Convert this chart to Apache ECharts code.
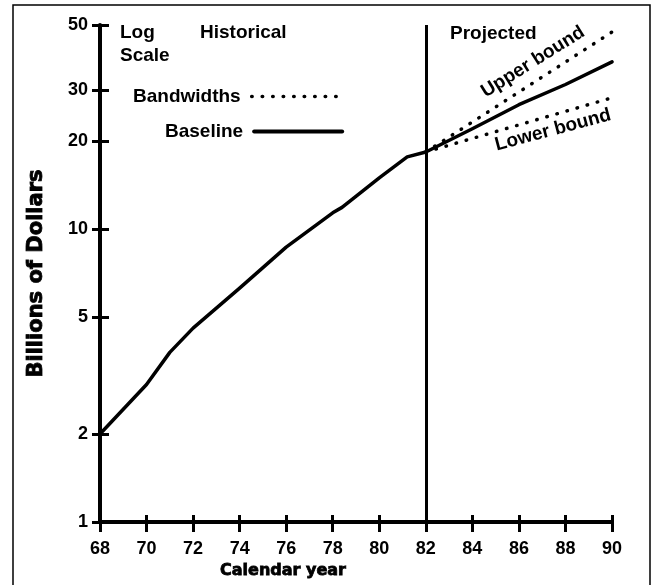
<!DOCTYPE html>
<html>
<head>
<meta charset="utf-8">
<script src="https://cdn.jsdelivr.net/npm/echarts@6/dist/echarts.min.js"></script>
<style>
  html, body { margin: 0; padding: 0; background: #fff; }
  #chart { width: 653px; height: 585px; }
</style>
</head>
<body>
<div id="chart"></div>
<script>
// Calendar years (19xx) and the baseline series in billions of dollars
const years = [68, 70, 71, 72, 74, 76, 78, 78.4, 80, 81.2, 82, 84, 86, 88, 90];
const baseline = [2.0, 2.95, 3.8, 4.6, 6.3, 8.7, 11.4, 11.9, 15.0, 17.7, 18.4, 22.1, 26.7, 31.3, 37.4];

// Projection bandwidths from 1982 onward
const boundYears = [82, 90];
const upperBound = [18.4, 47.3];
const lowerBound = [18.4, 28.2];

// Log-scale tick marks and the year axis range
const yTickValues = [1, 2, 5, 10, 20, 30, 50];
const xRange = [68, 90];
const xStep = 2;
const projectionStart = 82;

const pairs = (xs, ys) => xs.map((x, i) => [x, ys[i]]);

const tickFont = '"Liberation Sans", Arial, sans-serif';
const textFont = '"Liberation Sans", Arial, sans-serif';
const black = '#000';

const yLogMax = Math.log10(yTickValues[yTickValues.length - 1]);
const yTickPositions = yTickValues.map(v => Math.log10(v));

const chart = echarts.init(document.getElementById('chart'), null, { renderer: 'canvas' });

const dotted = { color: black, width: 3.5, type: [0.5, 10], cap: 'round' };
const solid = { color: black, width: 3.5, type: 'solid', cap: 'round', join: 'round' };

const legendText = {
  fontFamily: textFont, fontSize: 19, fontWeight: 'bold', color: black, padding: [0, 6, 0, 0]
};

chart.setOption({
  backgroundColor: '#fff',
  animation: false,
  grid: { left: 100, right: 41, top: 25, bottom: 63, containLabel: false },
  legend: [
    {
      data: ['Bandwidths'], left: 128, top: 82, align: 'right', selectedMode: false,
      itemWidth: 88, itemHeight: 14,
      itemStyle: { opacity: 0 },
      lineStyle: { color: black, width: 3.5, type: [0.5, 10], cap: 'round' },
      textStyle: legendText
    },
    {
      data: ['Baseline'], left: 160, top: 117, align: 'right', selectedMode: false,
      itemWidth: 88, itemHeight: 14,
      itemStyle: { opacity: 0 },
      lineStyle: { color: black, width: 4, type: 'solid', cap: 'round' },
      textStyle: legendText
    }
  ],
  xAxis: [
    {
      type: 'value', min: xRange[0], max: xRange[1], interval: xStep,
      axisLine: { show: true, lineStyle: { color: black, width: 4 } },
      axisTick: { show: true, inside: false, length: 10, lineStyle: { color: black, width: 3 } },
      axisLabel: {
        show: true, margin: 18, color: black,
        fontFamily: tickFont, fontSize: 18, fontWeight: 'bold'
      },
      splitLine: { show: false }
    },
    {
      type: 'value', min: xRange[0], max: xRange[1], interval: xStep, position: 'bottom',
      axisLine: { show: false },
      axisTick: { show: true, inside: true, length: 7, lineStyle: { color: black, width: 3 } },
      axisLabel: { show: false },
      splitLine: { show: false }
    }
  ],
  yAxis: [
    {
      type: 'log', logBase: 10, min: 1, max: 50,
      axisLine: { show: true, lineStyle: { color: black, width: 4 } },
      axisTick: { show: false },
      axisLabel: { show: false },
      splitLine: { show: false },
      name: 'Billions of Dollars', nameLocation: 'middle', nameGap: 53,
      nameTextStyle: {
        fontFamily: '"DejaVu Sans", sans-serif', fontSize: 21, fontWeight: 'bold', color: black,
        textBorderColor: black, textBorderWidth: 0.8
      }
    },
    {
      type: 'value', min: 0, max: yLogMax, position: 'left',
      axisLine: { show: false },
      axisTick: { show: true, inside: false, length: 8, customValues: yTickPositions, lineStyle: { color: black, width: 3 } },
      axisLabel: {
        show: true, margin: 12, customValues: yTickPositions, color: black,
        fontFamily: tickFont, fontSize: 18, fontWeight: 'bold',
        formatter: v => String(Math.round(Math.pow(10, v)))
      },
      splitLine: { show: false }
    },
    {
      type: 'value', min: 0, max: yLogMax, position: 'left',
      axisLine: { show: false },
      axisTick: { show: true, inside: true, length: 9, customValues: yTickPositions, lineStyle: { color: black, width: 3 } },
      axisLabel: { show: false },
      splitLine: { show: false }
    }
  ],
  series: [
    {
      name: 'Baseline', type: 'line', xAxisIndex: 0, yAxisIndex: 0,
      data: pairs(years, baseline),
      symbol: 'none', smooth: false,
      lineStyle: solid,
      itemStyle: { color: black },
      markLine: {
        silent: true, symbol: ['none', 'none'], label: { show: false },
        lineStyle: { color: black, width: 3, type: 'solid' },
        data: [{ xAxis: projectionStart }]
      },
      z: 3
    },
    {
      name: 'Bandwidths', type: 'line', xAxisIndex: 0, yAxisIndex: 0,
      data: pairs(boundYears, upperBound),
      symbol: 'none', lineStyle: dotted, itemStyle: { color: black }
    },
    {
      name: 'Bandwidths', type: 'line', xAxisIndex: 0, yAxisIndex: 0,
      data: pairs(boundYears, lowerBound),
      symbol: 'none', lineStyle: dotted, itemStyle: { color: black }
    }
  ],
  graphic: [
    {
      type: 'rect', shape: { x: 13, y: 5, width: 637, height: 600 },
      style: { fill: 'none', stroke: black, lineWidth: 1.5 }, silent: true
    },
    {
      type: 'text', x: 120, y: 23,
      style: { text: 'Log', fontFamily: textFont, fontSize: 19, fontWeight: 'bold', fill: black, verticalAlign: 'top' }
    },
    {
      type: 'text', x: 120, y: 46,
      style: { text: 'Scale', fontFamily: textFont, fontSize: 19, fontWeight: 'bold', fill: black, verticalAlign: 'top' }
    },
    {
      type: 'text', x: 200, y: 23,
      style: { text: 'Historical', fontFamily: textFont, fontSize: 19, fontWeight: 'bold', fill: black, verticalAlign: 'top' }
    },
    {
      type: 'text', x: 450, y: 24,
      style: { text: 'Projected', fontFamily: textFont, fontSize: 19, fontWeight: 'bold', fill: black, verticalAlign: 'top' }
    },
    {
      type: 'text', x: 533, y: 62, rotation: 32 * Math.PI / 180,
      style: { text: 'Upper bound', fontFamily: textFont, fontSize: 19, fontWeight: 'bold', fill: black, align: 'center', verticalAlign: 'middle' }
    },
    {
      type: 'text', x: 553, y: 130, rotation: 15 * Math.PI / 180,
      style: { text: 'Lower bound', fontFamily: textFont, fontSize: 19, fontWeight: 'bold', fill: black, align: 'center', verticalAlign: 'middle' }
    },
    {
      type: 'text', x: 283, y: 571,
      style: {
        text: 'Calendar year', fontFamily: '"DejaVu Sans", sans-serif', fontSize: 16, fontWeight: 'bold', fill: black,
        stroke: black, lineWidth: 0.8, align: 'center', verticalAlign: 'middle'
      }
    }
  ]
});
</script>
</body>
</html>
